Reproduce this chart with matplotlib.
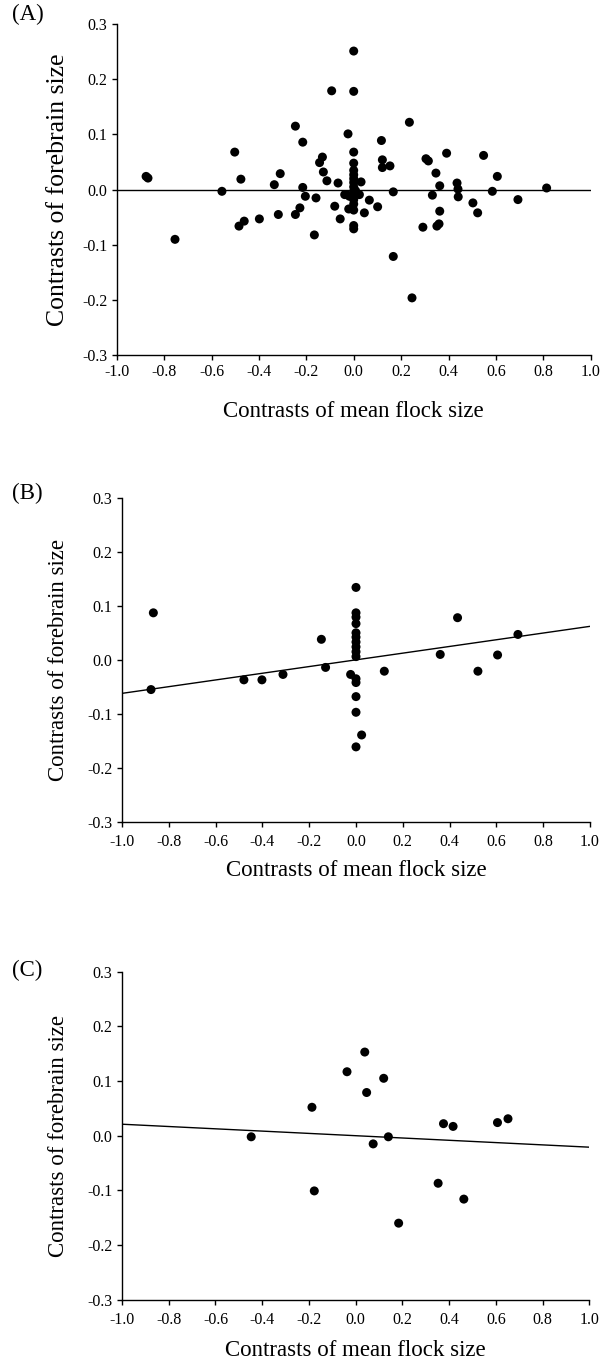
import numpy as np
import matplotlib
matplotlib.use("Agg")
import matplotlib.pyplot as plt

plt.rcParams['font.family'] = ['Liberation Serif', 'DejaVu Serif']

# ---- data ----
# Panel A
a_x = [-0.876, -0.868, -0.754, -0.556, -0.502, -0.476, -0.484, -0.462, -0.398,
       -0.335, -0.310, -0.318, -0.246, -0.215, -0.215, -0.204, -0.246, -0.227,
       -0.166, -0.159, -0.144, -0.132, -0.128, -0.113, -0.093, -0.066, -0.080,
       -0.057, -0.024, -0.038, -0.030, -0.021, -0.018,
       0.0, 0.0, 0.0, 0.0, 0.0, 0.0, 0.0, 0.0, 0.0, 0.0, 0.0, 0.0, 0.0, 0.0, 0.0, 0.0,
       0.031, 0.024, 0.008, 0.066, 0.101, 0.045, 0.117, 0.121, 0.121, 0.153, 0.167,
       0.167, 0.235, 0.246, 0.292, 0.305, 0.315, 0.332, 0.347, 0.363, 0.363, 0.351,
       0.360, 0.392, 0.436, 0.440, 0.441, 0.503, 0.523, 0.548, 0.606, 0.585, 0.693,
       0.814]
a_y = [0.024, 0.021, -0.090, -0.003, 0.068, 0.019, -0.066, -0.057, -0.053,
       0.009, 0.029, -0.045, 0.115, 0.086, 0.004, -0.012, -0.045, -0.033,
       -0.082, -0.015, 0.049, 0.059, 0.032, 0.016, 0.179, 0.012, -0.030,
       -0.053, 0.101, -0.009, -0.009, -0.035, -0.012,
       0.251, 0.178, 0.068, 0.048, 0.035, 0.027, 0.020, 0.013, 0.005, -0.003,
       -0.010, -0.018, -0.026, -0.037, -0.065, -0.071,
       0.014, -0.009, -0.002, -0.019, -0.031, -0.042, 0.089, 0.054, 0.040, 0.043, -0.004,
       -0.121, 0.122, -0.196, -0.068, 0.056, 0.052, -0.010, 0.030, 0.007, -0.039, -0.066,
       -0.062, 0.066, 0.012, 0.001, -0.013, -0.024, -0.042, 0.062, 0.024, -0.003, -0.018,
       0.003]

# Panel B
b_x = [-0.866, -0.876, -0.479, -0.402, -0.312, -0.148, -0.130, -0.023,
       0.0, 0.0, 0.0, 0.0, 0.0, 0.0, 0.0, 0.0, 0.0, 0.0, 0.0, 0.0, 0.0, 0.0, 0.0,
       0.024, 0.121, 0.360, 0.434, 0.521, 0.605, 0.692]
b_y = [0.087, -0.055, -0.037, -0.037, -0.027, 0.038, -0.014, -0.027,
       0.134, 0.087, 0.079, 0.067, 0.050, 0.042, 0.033, 0.024, 0.015, 0.006,
       -0.035, -0.042, -0.068, -0.097, -0.161,
       -0.139, -0.021, 0.010, 0.078, -0.021, 0.009, 0.047]
b_fit = (0.0, 0.062)   # intercept, slope

# Panel C
c_x = [-0.447, -0.187, -0.177, -0.037, 0.039, 0.047, 0.120, 0.075, 0.140,
       0.184, 0.353, 0.376, 0.417, 0.463, 0.607, 0.652]
c_y = [-0.002, 0.052, -0.101, 0.117, 0.153, 0.079, 0.105, -0.015, -0.002,
       -0.160, -0.087, 0.022, 0.017, -0.116, 0.024, 0.031]
c_fit = (0.0, -0.021)

x_ticks = [-1.0, -0.8, -0.6, -0.4, -0.2, 0.0, 0.2, 0.4, 0.6, 0.8, 1.0]
y_ticks = [-0.3, -0.2, -0.1, 0.0, 0.1, 0.2, 0.3]
panel_labels = ["(A)", "(B)", "(C)"]
xlabel = "Contrasts of mean flock size"
ylabel = "Contrasts of forebrain size"

W, H = 605, 1369
fig = plt.figure(figsize=(W / 100, H / 100), dpi=100)

# axes boxes in pixels: left, right, top, bottom
boxes = [(116.7, 590.7, 24.0, 355.3),
         (122.0, 590.0, 497.7, 822.0),
         (122.0, 589.3, 971.7, 1299.7)]
# per-panel text layout (pixels): x-tick pad, xlabel centre y, ylabel centre x, ylabel size
layout = [(3.0, 411.7, 58.5, 18.5),
          (5.5, 870.0, 58.5, 16.5),
          (5.5, 1350.0, 58.5, 16.5)]

axes = []
for (l, r, t, b) in boxes:
    axes.append(fig.add_axes([l / W, 1 - b / H, (r - l) / W, (b - t) / H]))

def style(ax, box, lay):
    l, r, t, b = box
    xpad, xl_y, yl_x, yl_size = lay
    ax.set_xlim(-1.0, 1.0)
    ax.set_ylim(-0.3, 0.3)
    for s in ("top", "right"):
        ax.spines[s].set_visible(False)
    for s in ("left", "bottom"):
        ax.spines[s].set_linewidth(1.0)
    ax.set_xticks(x_ticks)
    ax.set_yticks(y_ticks)
    ax.set_xticklabels([f"{v:.1f}" for v in x_ticks])
    ax.set_yticklabels([f"{v:.1f}" for v in y_ticks])
    ax.tick_params(direction="out", length=3.3, width=1.0, labelsize=11.5)
    ax.tick_params(axis="x", pad=xpad)
    ax.tick_params(axis="y", pad=3.5)
    ax.set_xlabel(xlabel, fontsize=16.5, va="center")
    ax.xaxis.set_label_coords(0.5, -(xl_y - b) / (b - t))
    ax.set_ylabel(ylabel, fontsize=yl_size, va="center")
    ax.yaxis.set_label_coords((yl_x - l) / (r - l), 0.5)

mk = dict(s=42, color="black", edgecolor="none", zorder=3, clip_on=False)
xs = np.array([-1.0, 1.0])

axA, axB, axC = axes
axA.scatter(a_x, a_y, **mk)
axA.axhline(0, color="black", lw=1.0, zorder=2)

axB.scatter(b_x, b_y, **mk)
axB.plot(xs, b_fit[0] + b_fit[1] * xs, color="black", lw=1.0, zorder=2)

axC.scatter(c_x, c_y, **mk)
axC.plot(xs, c_fit[0] + c_fit[1] * xs, color="black", lw=1.0, zorder=2)

for ax, box, lay in zip(axes, boxes, layout):
    style(ax, box, lay)

for lab, (x, y) in zip(panel_labels, [(12, 14), (12, 493), (12, 970)]):
    fig.text(x / W, 1 - y / H, lab, fontsize=16.5, ha="left", va="center")

fig.savefig("out.png", dpi=100)
